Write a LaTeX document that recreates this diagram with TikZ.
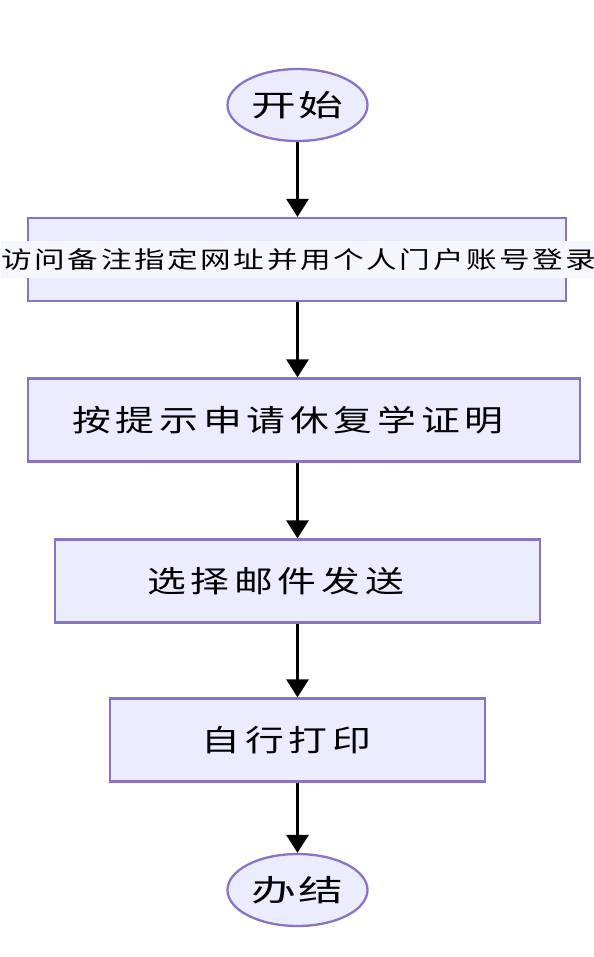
\documentclass[tikz,border=0pt]{standalone}
\usepackage{fontspec}
\setmainfont{Noto Sans CJK SC}
\newfontfamily\cjkwide[FakeStretch=1.30, LetterSpace=16]{Noto Sans CJK SC}
\newfontfamily\cjkterm[FakeStretch=1.50, LetterSpace=8]{Noto Sans CJK SC}
\newfontfamily\cjklong[FakeStretch=1.30, LetterSpace=11]{Noto Sans CJK SC}
\usetikzlibrary{shapes.geometric}
\usetikzlibrary{arrows.meta}
\definecolor{boxfill}{HTML}{ECECFF}
\definecolor{boxline}{HTML}{8A72C4}

\begin{document}
\begin{tikzpicture}[
box/.style = {rectangle, draw=boxline, fill=boxfill, line width=0.65pt,
            minimum width=#1, minimum height=0.83cm, inner sep=0pt},
box/.default = 4cm,
txt/.style = {inner sep=0pt, font=\cjkwide\fontsize{8.5pt}{10pt}\selectfont},
term/.style = {ellipse, draw=boxline, fill=boxfill, line width=0.65pt,
            minimum width=1.40cm, minimum height=0.72cm, inner sep=0pt,
            font=\cjkterm\fontsize{8.5pt}{10pt}\selectfont},
flow/.style = {line width=0.85pt, -{Triangle[width=0.22cm, length=0.18cm]}}
                ]
    \useasboundingbox (0,0) rectangle (5.94,-9.57);
    \def\cx{2.975}
    \node[term] at (\cx,-1.05) (start) {开始};
    \node[box=5.38cm] at (2.97,-2.595) (visit) {};
    \node[box=5.52cm] at (3.04,-4.20) (apply) {};
    \node[box=4.85cm] at (\cx,-5.81) (mail) {};
    \node[box=3.75cm] at (\cx,-7.40) (print) {};
    \node[term] at (\cx,-8.90) (done) {办结};
    % labels sit a little left of the box centres
    \node[txt, font=\cjklong\fontsize{6.7pt}{8pt}\selectfont, fill=boxfill!45,
          inner ysep=2pt] at ([xshift=0.02cm]visit.center) (visittext) {访问备注指定网址并用个人门户账号登录};
    \node[txt] at ([xshift=-0.16cm]apply.center) (applytext) {按提示申请休复学证明};
    \node[txt] at ([xshift=-0.22cm]mail.center) (mailtext) {选择邮件发送};
    \node[txt] at ([xshift=-0.11cm]print.center) (printtext) {自行打印};
    \draw [flow] (start) -- (start |- visit.north);
    \foreach \u/\v in {visit/apply, apply/mail, mail/print}
        \draw [flow] (\u.south -| start) -- (\v.north -| start);
    \draw [flow] (print) -- (done);
\end{tikzpicture}
\end{document}
